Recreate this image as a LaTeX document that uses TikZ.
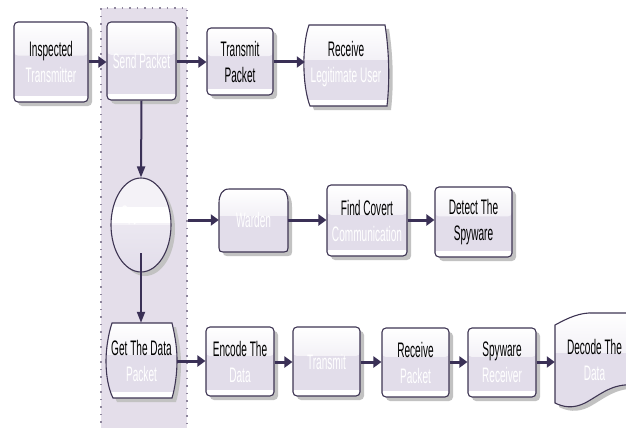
\documentclass[tikz,border=0pt]{standalone}
\usepackage{fontspec}
\setmainfont{Liberation Sans}[FakeStretch=0.48]
\usetikzlibrary{arrows.meta,shadows,calc,shapes.geometric}

\definecolor{lav}{HTML}{E2DDEA}
\definecolor{lavlight}{HTML}{F4F2F7}
\definecolor{edgec}{HTML}{3E3553}
\definecolor{arrowc}{HTML}{3A3056}
\definecolor{lanefill}{HTML}{E4DEEA}
\definecolor{lanedot}{HTML}{8E869C}
\definecolor{shadowc}{HTML}{C2C2C2}

\newcommand\wtxt[1]{\textcolor{white}{#1}}

\tikzset{
  txt/.style={font=\fontsize{21}{26}\selectfont, align=center, text=black, inner sep=0pt},
  gloss/.style={path picture={
      \shade[top color=white, bottom color=lav]
        (path picture bounding box.north west) rectangle
        ($(path picture bounding box.south east)!0.58!(path picture bounding box.north east)$);
      \fill[white] (path picture bounding box.south west) rectangle
        ([yshift=7pt]path picture bounding box.south east);
      \draw[lav, line width=0.8pt] ([yshift=7pt]path picture bounding box.south west) --
        ([yshift=7pt]path picture bounding box.south east);
  }},
  glosstop/.style={path picture={
      \shade[top color=white, bottom color=lav]
        (path picture bounding box.north west) rectangle
        ($(path picture bounding box.south east)!0.58!(path picture bounding box.north east)$);
  }},
  boxshadow/.style={drop shadow={shadow xshift=4pt, shadow yshift=-4pt, fill=shadowc, opacity=1}},
  procbox/.style={rectangle, rounded corners=4pt, draw=edgec, line width=1.1pt,
    fill=lav, gloss, boxshadow, txt},
  shapeline/.style={draw=edgec, line width=1.1pt, fill=lav},
  shapeshadow/.style={fill=shadowc, shift={(4pt,-4pt)}},
  hflow/.style={-{Triangle[length=8pt,width=11pt]}, line width=3pt, arrowc},
  vflow/.style={-{Triangle[length=11pt,width=8pt]}, line width=2pt, arrowc},
}

\begin{document}
\begin{tikzpicture}[x=1pt,y=-1pt]
\useasboundingbox (0,0) rectangle (626,428);

% swimlane holding the spyware steps
\fill[lanefill] (101,8) rectangle (187,430);
\draw[lanedot, line width=1.5pt, dash pattern=on 1.5pt off 6pt]
  (101,430) -- (101,8) -- (187,8) -- (187,430);

% top row
\node[procbox, minimum width=74pt, minimum height=80pt] (insp) at (51,62)
  {Inspected\\\wtxt{Transmitter}};
\node[procbox, minimum width=69pt, minimum height=78pt] (send) at (141.5,61)
  {\wtxt{Send Packet}};
\node[procbox, minimum width=66pt, minimum height=67pt] (tpk) at (240,61.5)
  {Transmit\\Packet};

\def\recvpath{(309,25) -- (385,25) .. controls (389,50) and (390,80) .. (387,106)
  -- (310,106) .. controls (302,85) and (302,45) .. (309,25) -- cycle}
\fill[shapeshadow] \recvpath;
\path[shapeline, gloss] \recvpath;
\node[txt, minimum width=82pt, minimum height=80pt] (recv) at (346,64)
  {Receive\\\wtxt{Legitimate User}};

% middle row
\node[ellipse, draw=edgec, line width=1.1pt, fill=lav, boxshadow,
  minimum width=60pt, minimum height=94pt, inner sep=0pt,
  path picture={
    \shade[top color=lavlight, bottom color=lav]
      ([yshift=2pt]path picture bounding box.west) rectangle
      (path picture bounding box.south east);
    \fill[lavlight] (path picture bounding box.north west) rectangle
      (path picture bounding box.east);
    \fill[white] ([yshift=18pt]path picture bounding box.west) rectangle
      ([yshift=2pt]path picture bounding box.east);},
  txt] (spy) at (141,225) {};
\node[txt] (spytext) at (141,215) {\wtxt{Spyware}};

\def\wardenpath{(219,203) .. controls (219,195) and (222,189) .. (229,189) -- (280,189)
  .. controls (286,189) and (288,195) .. (288,203) -- (288,248)
  .. controls (288,251) and (287,252) .. (284,252) -- (223,252)
  .. controls (220,252) and (219,251) .. (219,248) -- cycle}
\fill[shapeshadow] \wardenpath;
\path[shapeline, glosstop] \wardenpath;
\node[txt, minimum width=69pt, minimum height=63pt] (warden) at (253.5,220)
  {\wtxt{Warden}};

\node[procbox, minimum width=80pt, minimum height=71pt] (find) at (367,220.5)
  {Find Covert\\\wtxt{Communication}};
\node[procbox, minimum width=77pt, minimum height=70pt] (detect) at (473.5,222)
  {Detect The\\Spyware};

% bottom row
\def\getpath{(112,323) -- (172,323) .. controls (176,340) and (177,350) .. (177,361)
  .. controls (177,374) and (175,388) .. (172,398) -- (113,398)
  .. controls (108,388) and (106,374) .. (106,361)
  .. controls (106,350) and (108,335) .. (112,323) -- cycle}
\fill[shapeshadow] \getpath;
\path[shapeline, gloss] \getpath;
\node[txt, minimum width=71pt, minimum height=75pt] (getd) at (141.5,360.5)
  {Get The Data\\\wtxt{Packet}};

\node[procbox, minimum width=68pt, minimum height=69pt] (enc) at (240,361.5)
  {Encode The\\\wtxt{Data}};
\node[procbox, minimum width=67pt, minimum height=69pt] (trans) at (326.5,361.5)
  {\wtxt{Transmit}};
\node[procbox, minimum width=67pt, minimum height=69pt] (rpk) at (415.5,362.5)
  {Receive\\\wtxt{Packet}};
\node[procbox, minimum width=68pt, minimum height=69pt] (sprx) at (502,362.5)
  {Spyware\\\wtxt{Receiver}};

\def\decodepath{(555,325) .. controls (568,318) and (580,312) .. (595,313) -- (634,313)
  -- (634,385) .. controls (612,383) and (600,395) .. (585,403)
  .. controls (573,409) and (563,407) .. (555,403) -- cycle}
\fill[shapeshadow] \decodepath;
\path[shapeline, glosstop] \decodepath;
\node[txt, minimum width=79pt, minimum height=80pt] (decode) at (594.5,360)
  {Decode The\\\wtxt{Data}};

% flow connectors
\coordinate (spyout) at (188,220);
\coordinate (spyin) at (141,253);
\draw[hflow] (insp.east) -- (insp.east -| send.west);
\draw[hflow] (send.east |- 0,62) -- (tpk.west |- 0,62);
\draw[hflow] (tpk.east |- 0,62) -- (recv.west |- 0,62);
\draw[vflow] (send.south) -- (spy.north);
\draw[hflow] (spyout) -- (spyout -| warden.west);
\draw[hflow] (warden.east |- 0,220) -- (find.west |- 0,220);
\draw[hflow] (find.east |- 0,220) -- (detect.west |- 0,220);
\draw[vflow] (spyin) -- (spyin |- getd.north);
\draw[hflow] (getd.east |- 0,361) -- (enc.west |- 0,361);
\draw[hflow] (enc.east |- 0,362) -- (trans.west |- 0,362);
\draw[hflow] (trans.east |- 0,362) -- (rpk.west |- 0,362);
\draw[hflow] (rpk.east |- 0,362) -- (sprx.west |- 0,362);
\draw[hflow] (sprx.east |- 0,362) -- (decode.west |- 0,362);
\end{tikzpicture}
\end{document}
